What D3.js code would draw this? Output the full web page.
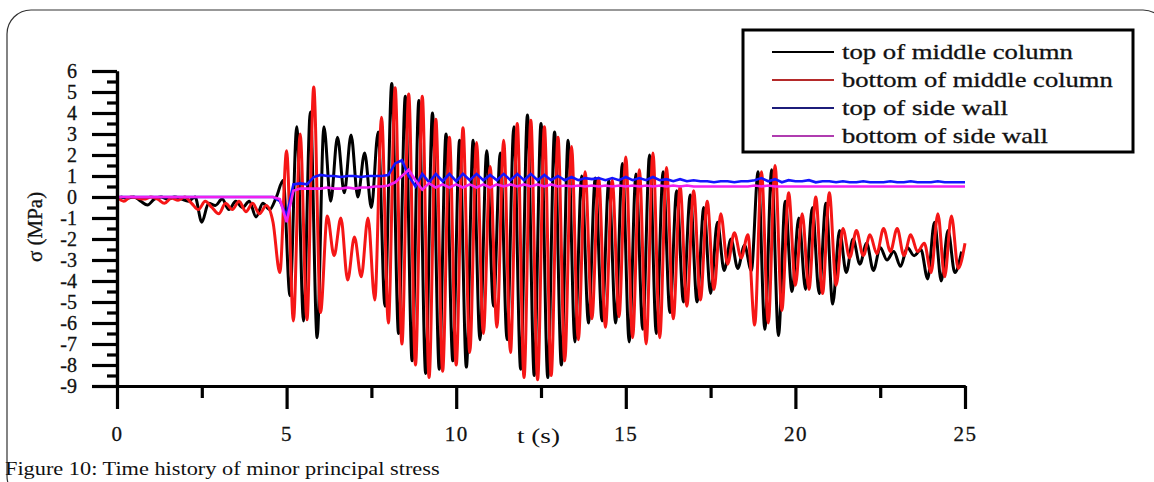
<!DOCTYPE html>
<html>
<head>
<meta charset="utf-8">
<script src="https://cdn.jsdelivr.net/npm/d3@7"></script>
<style>
  body { margin: 0; background: #fff; }
  svg { display: block; font-family: "Liberation Serif", "Times New Roman", serif; }
</style>
</head>
<body>
<div id="chart"></div>
<script>
// ---------- DATA ---------- //
// sample step (s); black samples sit half a step later
const dt = 0.2;
const blackOffset = 0.1;

const xTicks = [0, 5, 10, 15, 20, 25];
const xMinor = [2.5, 7.5, 12.5, 17.5, 22.5];
const yTicks = [-9, -8, -7, -6, -5, -4, -3, -2, -1, 0, 1, 2, 3, 4, 5, 6];
const yMinor = [-8.5, -7.5, -6.5, -5.5, -4.5, -3.5, -2.5, -1.5, -0.5, 0.5, 1.5, 2.5, 3.5, 4.5, 5.5];

const seriesNames = ['top of middle column', 'bottom of middle column', 'top of side wall', 'bottom of side wall'];

// bottom of middle column, t = 0, 0.2 ... 25
const redVals = [
  0, -0.2, 0, -0.05, -0.1, 0, -0.1, -0.3, -0.05, -0.15,
  0, -0.3, -0.6, -0.2, -0.5, -0.8, -0.3, -0.6, -0.2, -0.7,
  -0.3, -0.8, -0.4, -1.2, -3.6, 2.2, -5.9, 3.0, -5.85, 5.24,
  -5.5, -0.9, -2.8, -1.0, -3.95, -1.9, -3.8, -1.0, -4.9, 3.8,
  -6.0, 5.2, -7.0, 4.9, -8.0, 4.8, -8.6, 3.7, -8.3, 2.85,
  -8.0, 3.3, -7.4, 2.6, -6.5, 1.45, -6.2, 2.7, -7.4, 3.5,
  -8.6, 3.65, -8.7, 3.35, -8.5, 2.85, -7.8, 2.4, -6.8, 1.2,
  -5.8, 0.9, -6.2, 0.8, -5.7, 1.9, -6.7, 1.3, -7.0, 2.1,
  -6.7, 1.4, -5.8, 0.5, -5.2, 0.3, -4.9, -0.2, -4.4, -0.8,
  -3.2, -1.7, -2.9, -1.8, -6.1, 1.2, -6.0, 1.5, -5.4, 0.2,
  -4.2, -0.8, -4.4, 0.0, -4.6, 0.2, -4.2, -1.5, -2.9, -1.6,
  -2.8, -1.8, -2.7, -1.5, -2.6, -1.5, -2.8, -1.8, -2.6, -2.2,
  -3.6, -0.8, -3.8, -0.9, -3.4, -2.2
];

// top of middle column, t = 0.1, 0.3 ... 24.9
const blackVals = [
  0, -0.05, 0, -0.2, -0.38, -0.1, 0, -0.1, 0, -0.1,
  -0.2, 0, -1.2, -0.3, -0.4, -0.1, -0.6, -0.2, -0.5, -0.2,
  -0.95, -0.3, -0.6, 0.0, 0.8, -4.7, 3.35, -5.9, 4.05, -6.7,
  3.35, -0.2, 2.85, 0.2, 2.95, 0.0, 2.1, -0.5, 3.1, -5.2,
  5.4, -6.5, 4.8, -7.8, 4.6, -8.4, 4.0, -8.2, 3.0, -7.8,
  2.7, -8.1, 2.7, -6.8, 2.2, -5.2, 2.1, -6.8, 3.35, -8.2,
  3.9, -8.5, 3.5, -8.6, 3.1, -8.0, 2.7, -6.9, 1.0, -6.0,
  0.9, -5.9, 0.8, -6.0, 1.6, -6.9, 1.1, -6.3, 2.0, -6.5,
  1.2, -5.5, 0.3, -5.0, 0.1, -5.0, -0.5, -4.6, -1.2, -3.5,
  -2.0, -3.4, -2.3, -3.5, 1.2, -6.3, 1.3, -6.6, -0.2, -4.5,
  -1.0, -4.4, -0.5, -4.6, -0.3, -5.1, -1.6, -3.6, -2.0, -3.2,
  -2.2, -3.5, -2.4, -3.0, -2.6, -3.3, -2.4, -2.8, -2.5, -3.9,
  -1.2, -4.0, -1.6, -3.6, -2.6
];

// top of side wall, t = 0, 0.2 ... 25
const blueVals = [
  0, 0, 0, 0, 0, 0, 0, 0, 0, 0,
  0, 0, 0, 0, 0, 0, 0, 0, 0, 0,
  0, 0, 0, 0, -0.2, -0.9, 0.6, 0.65, 0.6, 0.95,
  1.05, 1.0, 1.0, 0.95, 1.0, 1.0, 0.95, 1.0, 1.0, 1.0,
  1.05, 1.6, 1.75, 1.0, 0.5, 1.1, 0.7, 1.1, 0.75, 1.1,
  0.75, 1.1, 0.8, 1.1, 0.8, 1.05, 0.8, 1.1, 0.8, 1.1,
  0.8, 1.1, 0.8, 1.05, 0.8, 1.0, 0.8, 0.95, 0.8, 0.9,
  0.85, 0.9, 0.8, 0.9, 0.8, 0.95, 0.8, 0.9, 0.8, 0.95,
  0.8, 0.85, 0.75, 0.85, 0.75, 0.8, 0.75, 0.75, 0.7, 0.75,
  0.75, 0.7, 0.75, 0.75, 0.8, 0.9, 0.75, 0.85, 0.7, 0.8,
  0.75, 0.75, 0.8, 0.7, 0.75, 0.75, 0.7, 0.75, 0.7, 0.7,
  0.75, 0.7, 0.7, 0.7, 0.75, 0.7, 0.7, 0.75, 0.7, 0.7,
  0.7, 0.75, 0.7, 0.7, 0.7, 0.7
];

// bottom of side wall, t = 0, 0.2 ... 25
const magentaVals = [
  0, 0, 0, 0, 0, 0, 0, 0, 0, 0,
  0, 0, 0, 0, 0, 0, 0, 0, 0, 0,
  0, 0, 0, 0, -0.1, -1.2, 0.3, 0.4, 0.4, 0.4,
  0.4, 0.45, 0.4, 0.4, 0.45, 0.4, 0.45, 0.45, 0.5, 0.5,
  0.55, 0.7, 1.0, 1.3, 0.8, 0.35, 0.65, 0.45, 0.6, 0.45,
  0.6, 0.45, 0.6, 0.45, 0.6, 0.45, 0.6, 0.5, 0.6, 0.5,
  0.6, 0.5, 0.6, 0.5, 0.6, 0.5, 0.55, 0.5, 0.55, 0.5,
  0.55, 0.5, 0.55, 0.5, 0.55, 0.5, 0.55, 0.5, 0.55, 0.5,
  0.55, 0.5, 0.55, 0.5, 0.55, 0.5, 0.5, 0.5, 0.5, 0.5,
  0.5, 0.5, 0.5, 0.5, 0.55, 0.5, 0.55, 0.5, 0.5, 0.5,
  0.5, 0.5, 0.5, 0.5, 0.5, 0.5, 0.5, 0.5, 0.5, 0.5,
  0.5, 0.5, 0.5, 0.5, 0.5, 0.5, 0.5, 0.5, 0.5, 0.5,
  0.5, 0.5, 0.5, 0.5, 0.5, 0.5
];

// ---------- CHART ---------- //
const width = 1154, height = 482;
const serif = '"Liberation Serif", "Times New Roman", serif';

const svg = d3.select('#chart').append('svg')
  .attr('width', width)
  .attr('height', height);

// outer frame with rounded corners
svg.append('rect')
  .attr('x', 7).attr('y', 10)
  .attr('width', 1160).attr('height', 490)
  .attr('rx', 24).attr('ry', 24)
  .attr('fill', 'none')
  .attr('stroke', '#333')
  .attr('stroke-width', 1.2);

// scales
const x = d3.scaleLinear().domain([0, 25]).range([117, 965]);
const y = d3.scaleLinear().domain([-9, 6]).range([386, 71]);

// series
const waveLine = d3.line()
  .x(d => x(d[0]))
  .y(d => y(d[1]))
  .curve(d3.curveMonotoneX);

const flatLine = d3.line()
  .x(d => x(d[0]))
  .y(d => y(d[1]));

const series = [
  {name: seriesNames[0], color: '#000', gen: waveLine, w: 3, pts: blackVals.map((v, i) => [blackOffset + i * dt, v])},
  {name: seriesNames[1], color: '#f51616', gen: waveLine, w: 3, pts: redVals.map((v, i) => [i * dt, v])},
  {name: seriesNames[2], color: '#1515ff', gen: flatLine, w: 2.6, pts: blueVals.map((v, i) => [i * dt, v])},
  {name: seriesNames[3], color: '#f020f0', gen: flatLine, w: 2.6, pts: magentaVals.map((v, i) => [i * dt, v])}
];

svg.append('g')
  .selectAll('path')
  .data(series)
  .enter()
  .append('path')
  .attr('d', d => d.gen(d.pts))
  .attr('fill', 'none')
  .attr('stroke', d => d.color)
  .attr('stroke-width', d => d.w);

// axes
const axisStyle = g => {
  g.selectAll('path, line').attr('stroke', '#000').attr('stroke-width', 3.2);
  g.selectAll('text')
    .attr('font-family', serif)
    .attr('fill', '#111')
    .attr('stroke', '#111')
    .attr('stroke-width', 0.3);
};

svg.append('g')
  .attr('transform', 'translate(' + x(0) + ',0)')
  .call(d3.axisLeft(y).tickValues(yMinor).tickSize(10).tickSizeOuter(0).tickFormat(''))
  .call(axisStyle);

// plain hyphen for negative labels, as in the original
svg.append('g')
  .attr('transform', 'translate(' + x(0) + ',0)')
  .call(d3.axisLeft(y).tickValues(yTicks).tickSize(25).tickSizeOuter(0).tickPadding(15).tickFormat(d => String(d)))
  .call(axisStyle)
  .selectAll('text').attr('font-size', 20);

svg.append('g')
  .attr('transform', 'translate(0,' + y(-9) + ')')
  .call(d3.axisBottom(x).tickValues(xMinor).tickSize(12).tickSizeOuter(0).tickFormat(''))
  .call(axisStyle);

svg.append('g')
  .attr('transform', 'translate(0,' + y(-9) + ')')
  .call(d3.axisBottom(x).tickValues(xTicks).tickSize(23).tickSizeOuter(0).tickPadding(17))
  .call(axisStyle)
  .selectAll('text').attr('font-size', 21).attr('letter-spacing', 1.5);

// text stretched horizontally to a given width
function stretchedText(parent, x0, y0, size, target, str) {
  const t = parent.append('text')
    .attr('font-family', serif)
    .attr('font-size', size)
    .attr('fill', '#111')
    .attr('stroke', '#111')
    .attr('stroke-width', 0.3)
    .text(str);
  const w = t.node().getComputedTextLength();
  t.attr('transform', 'translate(' + x0 + ',' + y0 + ') scale(' + (target / w) + ',1)');
  return t;
}

// axis titles
stretchedText(svg, 517, 443, 21, 43, 't (s)')
  .attr('stroke-width', 0);

svg.append('text')
  .attr('transform', 'translate(42,227) rotate(-90)')
  .attr('text-anchor', 'middle')
  .attr('font-family', serif)
  .attr('font-size', 21)
  .attr('fill', '#111')
  .attr('stroke', '#111')
  .attr('stroke-width', 0.3)
  .text('σ (MPa)');

// legend
const legend = svg.append('g');
legend.append('rect')
  .attr('x', 743).attr('y', 30)
  .attr('width', 390).attr('height', 122)
  .attr('fill', '#fff')
  .attr('stroke', '#000')
  .attr('stroke-width', 3);

const legendColors = ['#000', '#b52a2a', '#1c1c7a', '#b03cb0'];
const legendWidths = [231, 271, 166, 206];
const rowY = [52, 80, 108, 136];

seriesNames.forEach((name, i) => {
  legend.append('line')
    .attr('x1', 772).attr('x2', 834)
    .attr('y1', rowY[i]).attr('y2', rowY[i])
    .attr('stroke', legendColors[i])
    .attr('stroke-width', 1.8);
  stretchedText(legend, 842, rowY[i] + 7, 21, legendWidths[i], name);
});

// caption
stretchedText(svg, 5, 475, 19, 435, 'Figure 10: Time history of minor principal stress')
  .attr('stroke-width', 0);
</script>
</body>
</html>
